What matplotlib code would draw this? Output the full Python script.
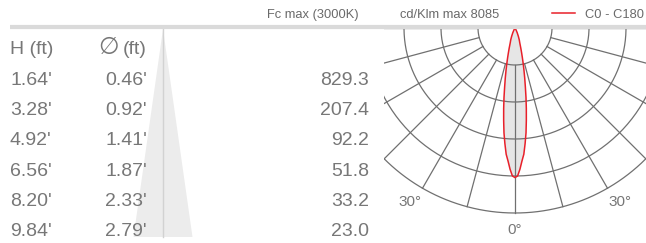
import numpy as np
import matplotlib.pyplot as plt

# photometric table
heights = [1.64, 3.28, 4.92, 6.56, 8.20, 9.84]
diameters = [0.46, 0.92, 1.41, 1.87, 2.33, 2.79]
fc_max = [829.3, 207.4, 92.2, 51.8, 33.2, 23.0]
cd_max = 8085

# C0 - C180 intensity curve (cd/klm), symmetric
gamma = [0, 1, 2, 3, 4, 5, 6, 7, 8, 9, 10, 11, 12, 13, 14, 15, 16, 17, 18, 19, 20, 22, 25, 30, 35, 40, 90]
intensity = [8085, 8000, 7640, 7200, 6840, 6270, 5700, 5030, 4400, 3800, 3220, 2750, 2330, 1960,
             1640, 1370, 1150, 960, 820, 740, 660, 480, 280, 90, 20, 0, 0]

ring_values = [2000, 4000, 6000, 8000, 10000]
spoke_angles = [-90, -75, -60, -45, -30, -15, 0, 15, 30, 45, 60, 75, 90]

W, H = 646, 243
plt.rcParams['font.family'] = ['Liberation Sans', 'DejaVu Sans']
fig = plt.figure(figsize=(W / 100, H / 100), dpi=100)

TXT = '#777777'
HDR = '#6a6a6a'
GRID = '#707070'

# ---- polar diagram ----
cx, cy = 515, 28          # centre in pixels
k = 2000 / 37             # cd/klm per pixel
x0, x1 = 384, 646
pax = fig.add_axes([x0 / W, 0, (x1 - x0) / W, (H - cy) / H])
pax.set_xlim((x0 - cx) * k, (x1 - cx) * k)
pax.set_ylim(-(H - cy) * k, 0)
pax.axis('off')

g = np.radians(np.array(gamma, dtype=float))
I = np.array(intensity, dtype=float)
th = np.concatenate([-g[::-1], g[1:]])
rr = np.concatenate([I[::-1], I[1:]])
lx = rr * np.sin(th)
ly = -rr * np.cos(th)
pax.fill(lx, ly, color='#e6e6e6', zorder=1, lw=0)

t = np.linspace(0, 2 * np.pi, 400)
for r in ring_values:
    pax.plot(r * np.cos(t), r * np.sin(t), color=GRID, lw=0.9, zorder=2)
for a in spoke_angles:
    ar = np.radians(a)
    pax.plot([ring_values[0] * np.sin(ar), ring_values[-1] * np.sin(ar)],
             [-ring_values[0] * np.cos(ar), -ring_values[-1] * np.cos(ar)],
             color=GRID, lw=0.9, zorder=2)
pax.plot(lx, ly, color='#e8202a', lw=1.1, zorder=3)

for a, lab in [(-31, '30°'), (31, '30°'), (0, '0°')]:
    r = 11000 if a else 10900
    pax.text(r * np.sin(np.radians(a)), -r * np.cos(np.radians(a)), lab,
             ha='center', va='center', fontsize=11, color=TXT)

# ---- table / header (pixel coordinates) ----
ax = fig.add_axes([0, 0, 1, 1])
ax.set_xlim(0, W)
ax.set_ylim(H, 0)
ax.axis('off')

# beam cone
apex_x, apex_y, base_y = 163, 29, 237
half = diameters[-1] / 2 / heights[-1] * (base_y - apex_y)
ax.fill([apex_x, apex_x - half, apex_x + half], [apex_y, base_y, base_y], color='#ececec', lw=0, zorder=0)
ax.plot([apex_x, apex_x], [apex_y, base_y], color='#d2d2d2', lw=1, zorder=1)

ax.plot([10, W], [27, 27], color='#dadada', lw=3, solid_capstyle='butt', zorder=2)

fs = 14
ax.text(10, 54, 'H (ft)', fontsize=fs, color=TXT, ha='left', va='baseline')
ax.text(109, 54, '∅', fontsize=17, color=TXT, ha='center', va='baseline', family='DejaVu Sans')
ax.text(147, 54, '(ft)', fontsize=fs, color=TXT, ha='right', va='baseline')
for i, (h, d, f) in enumerate(zip(heights, diameters, fc_max)):
    yb = 85 + i * 30.2
    ax.text(10, yb, f"{h:.2f}'", fontsize=fs, color=TXT, ha='left', va='baseline', zorder=3)
    ax.text(147, yb, f"{d:.2f}'", fontsize=fs, color=TXT, ha='right', va='baseline', zorder=3)
    ax.text(369, yb, f"{f:.1f}", fontsize=fs, color=TXT, ha='right', va='baseline', zorder=3)

ax.text(313, 18, 'Fc max (3000K)', fontsize=9.3, color=HDR, ha='center', va='baseline')
ax.text(450, 18, f'cd/Klm max {cd_max}', fontsize=9.3, color=HDR, ha='center', va='baseline')
ax.plot([552, 575], [13, 13], color='#e8202a', lw=1.1)
ax.text(585, 18, 'C0 - C180', fontsize=9.3, color=HDR, ha='left', va='baseline')

fig.savefig('out.png', dpi=100)
